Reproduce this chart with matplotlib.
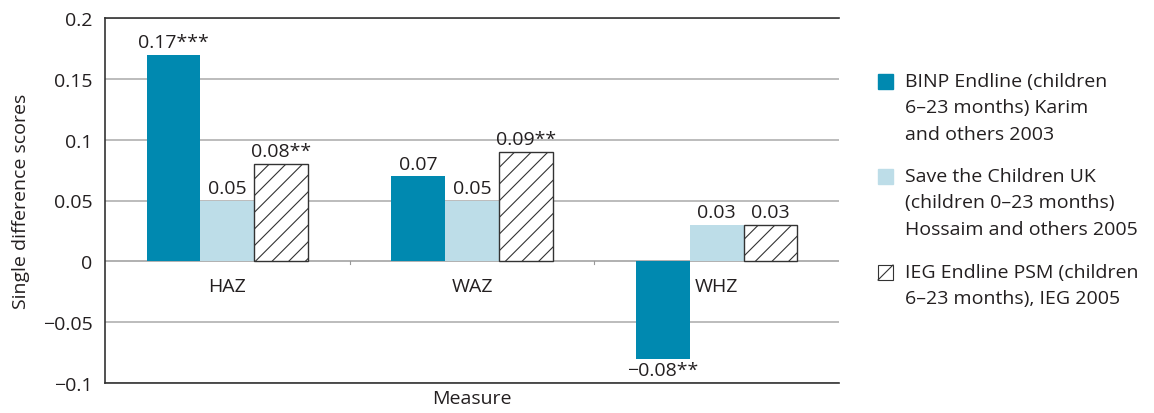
import numpy as np
import matplotlib.pyplot as plt
from matplotlib.patches import Rectangle
from matplotlib.lines import Line2D

plt.rcParams["font.family"] = ["Open Sans", "DejaVu Sans"]
plt.rcParams["hatch.linewidth"] = 0.8
plt.rcParams["hatch.color"] = "#333333"

measures = ["HAZ", "WAZ", "WHZ"]
binp_values = [0.17, 0.07, -0.08]
save_values = [0.05, 0.05, 0.03]
ieg_values = [0.08, 0.09, 0.03]
binp_labels = ["0.17***", "0.07", "\u22120.08**"]
save_labels = ["0.05", "0.05", "0.03"]
ieg_labels = ["0.08**", "0.09**", "0.03"]
legend_labels = [
    ["BINP Endline (children", "6\u201323 months) Karim", "and others 2003"],
    ["Save the Children UK", "(children 0\u201323 months)", "Hossaim and others 2005"],
    ["IEG Endline PSM (children", "6\u201323 months), IEG 2005"],
]
y_ticks = [-0.1, -0.05, 0, 0.05, 0.1, 0.15, 0.2]
y_tick_labels = ["\u22120.1", "\u22120.05", "0", "0.05", "0.1", "0.15", "0.2"]

binp_color = "#0089b0"
save_color = "#bddde8"
text_color = "#231f20"
fs = 14

W, H = 1154, 414
fig = plt.figure(figsize=(W / 100, H / 100), dpi=100)
ax = fig.add_axes([105 / W, 1 - 384 / H, (839 - 105) / W, (384 - 19) / H])

x = np.arange(len(measures))
width = 0.22

ax.bar(x - width, binp_values, width, color=binp_color, zorder=3)
ax.bar(x, save_values, width, color=save_color, zorder=3)
ax.bar(x + width, ieg_values, width, facecolor="white", edgecolor="#333333",
       linewidth=1.0, hatch="//", zorder=3)

for offset, values, labels in [(-width, binp_values, binp_labels),
                               (0, save_values, save_labels),
                               (width, ieg_values, ieg_labels)]:
    for xi, v, lab in zip(x, values, labels):
        if v >= 0:
            ax.text(xi + offset, v + 0.003, lab, ha="center", va="bottom",
                    fontsize=fs, color=text_color)
        else:
            ax.text(xi + offset, v - 0.002, lab, ha="center", va="top",
                    fontsize=fs, color=text_color)

ax.set_xlim(-0.5, 2.5)
ax.set_ylim(-0.1, 0.2)
ax.set_yticks(y_ticks)
ax.set_yticklabels(y_tick_labels, fontsize=fs, color=text_color)
ax.yaxis.grid(True, color="#b0b0b0", linewidth=1.2, zorder=0)
ax.set_axisbelow(True)
ax.tick_params(axis="y", length=0, pad=9)

# category labels sit just under the zero line
ax.set_xticks([])
for xi, m in zip(x, measures):
    ax.text(xi, -0.013, m, ha="center", va="top", fontsize=fs, color=text_color)
for xb in [0.5, 1.5]:
    ax.plot([xb, xb], [0, -0.002], color="#999999", linewidth=0.8, zorder=4)
ax.axhline(0, color="#b0b0b0", linewidth=1.2, zorder=2)

ax.spines["right"].set_visible(False)
for side in ["left", "top", "bottom"]:
    ax.spines[side].set_color("#333333")
    ax.spines[side].set_linewidth(1.2)

ax.set_xlabel("Measure", fontsize=fs, color=text_color, labelpad=4)
ax.set_ylabel("Single difference scores", fontsize=fs, color=text_color, labelpad=9)

# legend drawn by hand so the swatch lines up with the first text line
handle_styles = [
    dict(facecolor=binp_color, edgecolor=binp_color),
    dict(facecolor=save_color, edgecolor=save_color),
    dict(facecolor="white", edgecolor="#333333", linewidth=0.8),
]
first_line_y = [82, 177, 273]
line_step = 26.5
for k, (style, lines, y0) in enumerate(zip(handle_styles, legend_labels, first_line_y)):
    x0, y_bot, size = 878 / W, 1 - (y0 + 8) / H, 15
    fig.patches.append(Rectangle((x0, y_bot), size / W, size / H,
                                 transform=fig.transFigure, **style))
    if k == 2:
        fig.lines.append(Line2D([x0, x0 + size / W], [y_bot, y_bot + size / H],
                                transform=fig.transFigure, color="#333333",
                                linewidth=0.8))
    for i, line in enumerate(lines):
        fig.text(905 / W, 1 - (y0 + i * line_step) / H, line, ha="left",
                 va="center", fontsize=fs, color=text_color)

fig.savefig("out.png", dpi=100)
